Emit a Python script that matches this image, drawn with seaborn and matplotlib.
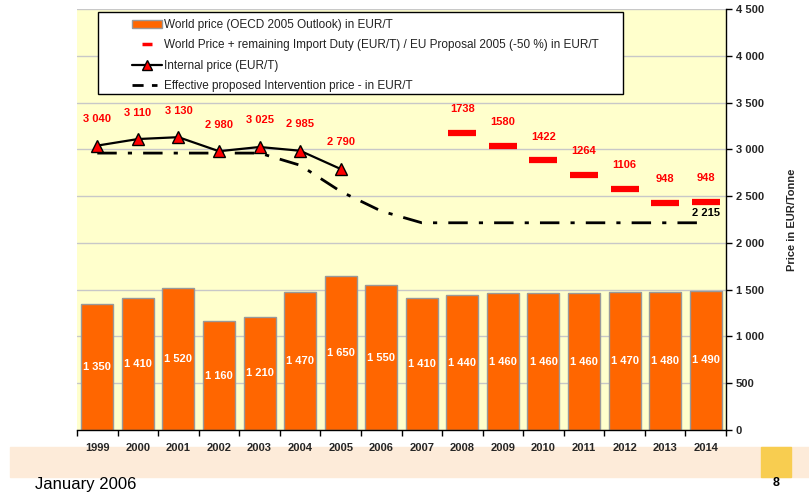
import numpy as np
import pandas as pd
import seaborn as sns
import matplotlib.pyplot as plt
from matplotlib.lines import Line2D
from matplotlib.patches import Patch, Rectangle

# data
years = ['1999', '2000', '2001', '2002', '2003', '2004', '2005', '2006',
         '2007', '2008', '2009', '2010', '2011', '2012', '2013', '2014']
world_price = [1350, 1410, 1520, 1160, 1210, 1470, 1650, 1550,
               1410, 1440, 1460, 1460, 1460, 1470, 1480, 1490]
internal_years = ['1999', '2000', '2001', '2002', '2003', '2004', '2005']
internal_price = [3040, 3110, 3130, 2980, 3025, 2985, 2790]
duty_years = ['2008', '2009', '2010', '2011', '2012', '2013', '2014']
remaining_duty = [1738, 1580, 1422, 1264, 1106, 948, 948]
intervention_price = [2960, 2960, 2960, 2960, 2960, 2830, 2550, 2340,
                      2215, 2215, 2215, 2215, 2215, 2215, 2215, 2215]

sns.set_theme(style='white')
plt.rcParams['font.family'] = ['Liberation Sans', 'DejaVu Sans']

fig = plt.figure(figsize=(8.09, 4.95), dpi=100)
ax = fig.add_axes([0.0952, 0.1313, 0.8022, 0.8505])
ax.set_zorder(3)
ax.set_facecolor('#ffffcc')

df = pd.DataFrame({'year': years, 'world': world_price})
pos = {y: i for i, y in enumerate(years)}

# world price bars
sns.barplot(data=df, x='year', y='world', color='#ff6600', saturation=1,
            width=0.79, edgecolor='#999999', linewidth=1, ax=ax, zorder=2)
for i, v in enumerate(world_price):
    ax.text(i, v / 2, f'{v:,}'.replace(',', ' '), color='white', ha='center',
            va='center', fontsize=8, fontweight='bold', zorder=5)

# intervention price
ax.plot(range(len(years)), intervention_price, color='black', lw=2,
        linestyle=(0, (7, 4, 1.5, 4)), zorder=3)
ax.text(pos['2014'], intervention_price[-1] + 105, '2 215', ha='center',
        va='center', fontsize=8, fontweight='bold', color='black', zorder=5)

# internal price
ix = [pos[y] for y in internal_years]
ax.plot(ix, internal_price, color='black', lw=1.6, marker='^', ms=9,
        mfc='red', mec='black', mew=1, zorder=4)
for x, v in zip(ix, internal_price):
    ax.text(x, v + 230, f'{v:,}'.replace(',', ' '), color='red', ha='center',
            va='bottom', fontsize=8, fontweight='bold', zorder=5)

# world price + remaining duty
dx = [pos[y] for y in duty_years]
dv = [world_price[pos[y]] + d for y, d in zip(duty_years, remaining_duty)]
ax.plot(dx, dv, linestyle='none', marker='_', ms=20, mew=4.5, color='red',
        zorder=4)
for x, v, d in zip(dx, dv, remaining_duty):
    ax.text(x, v + 200, str(d), color='red', ha='center', va='bottom',
            fontsize=8, fontweight='bold', zorder=5)

# axes styling
ax.set_ylim(0, 4500)
ax.set_xlim(-0.5, len(years) - 0.5)
ax.set_yticks(np.arange(0, 4501, 500))
ax.set_yticklabels([f'{v:,}'.replace(',', ' ') for v in range(0, 4501, 500)],
                   fontsize=8, fontweight='bold')
ax.yaxis.tick_right()
ax.yaxis.set_label_position('right')
ax.set_ylabel('Price in EUR/Tonne', fontsize=8, fontweight='bold', labelpad=17)
ax.set_xlabel('')
ax.grid(axis='y', color='#c8c8c8', lw=1, zorder=0)
ax.set_axisbelow(True)
ax.tick_params(axis='y', which='major', direction='out', length=4, width=1,
               color='black', right=True, pad=3)
ax.set_xticks(range(len(years)))
ax.set_xticklabels(years, fontsize=8, fontweight='bold')
ax.set_xticks(np.arange(-0.5, len(years)), minor=True)
ax.tick_params(axis='x', which='major', length=0, pad=9)
ax.tick_params(axis='x', which='minor', direction='out', length=4, width=1,
               color='black', bottom=True)
for s in ['left', 'top']:
    ax.spines[s].set_visible(False)
for s in ['right', 'bottom']:
    ax.spines[s].set_color('black')
    ax.spines[s].set_linewidth(1)

# legend: white box drawn separately, entries indented inside it
ax.add_patch(Rectangle((0.032, 0.797), 0.809, 0.196, transform=ax.transAxes,
                       facecolor='white', edgecolor='black', lw=1, zorder=6))
handles = [
    Patch(facecolor='#ff6600', edgecolor='#999999'),
    Line2D([], [], linestyle='none', marker='_', ms=7, mew=2.5, color='red'),
    Line2D([], [], color='black', lw=1.6, marker='^', ms=7, mfc='red', mec='black'),
    Line2D([], [], color='black', lw=2, linestyle=(0, (4, 3, 2, 3))),
]
labels = ['World price (OECD 2005 Outlook) in EUR/T',
          'World Price + remaining Import Duty (EUR/T) / EU Proposal 2005 (-50 %) in EUR/T',
          'Internal price (EUR/T)',
          'Effective proposed Intervention price - in EUR/T']
leg = ax.legend(handles, labels, loc='upper left',
                bbox_to_anchor=(0.08, 0.985), fontsize=8.5,
                frameon=False, borderpad=0.3, labelspacing=0.72,
                handlelength=2.5, handletextpad=0.15, borderaxespad=0)
leg.set_zorder(7)
for t in leg.get_texts():
    t.set_color('#222222')

# footer band
fig.patches.append(Rectangle((0.0124, 0.0364), 0.99, 0.0606,
                             transform=fig.transFigure, color='#fdebd9',
                             zorder=0))
fig.patches.append(Rectangle((0.9407, 0.0364), 0.037, 0.0606,
                             transform=fig.transFigure, color='#f8cd50',
                             zorder=1))
fig.text(35 / 809, 1 - 485 / 495, 'January 2006', fontsize=12, va='center',
         ha='left', color='black')
fig.text(776 / 809, 1 - 483 / 495, '8', fontsize=9, fontweight='bold',
         va='center', ha='center', color='black')

fig.savefig('out.png', dpi=100)
